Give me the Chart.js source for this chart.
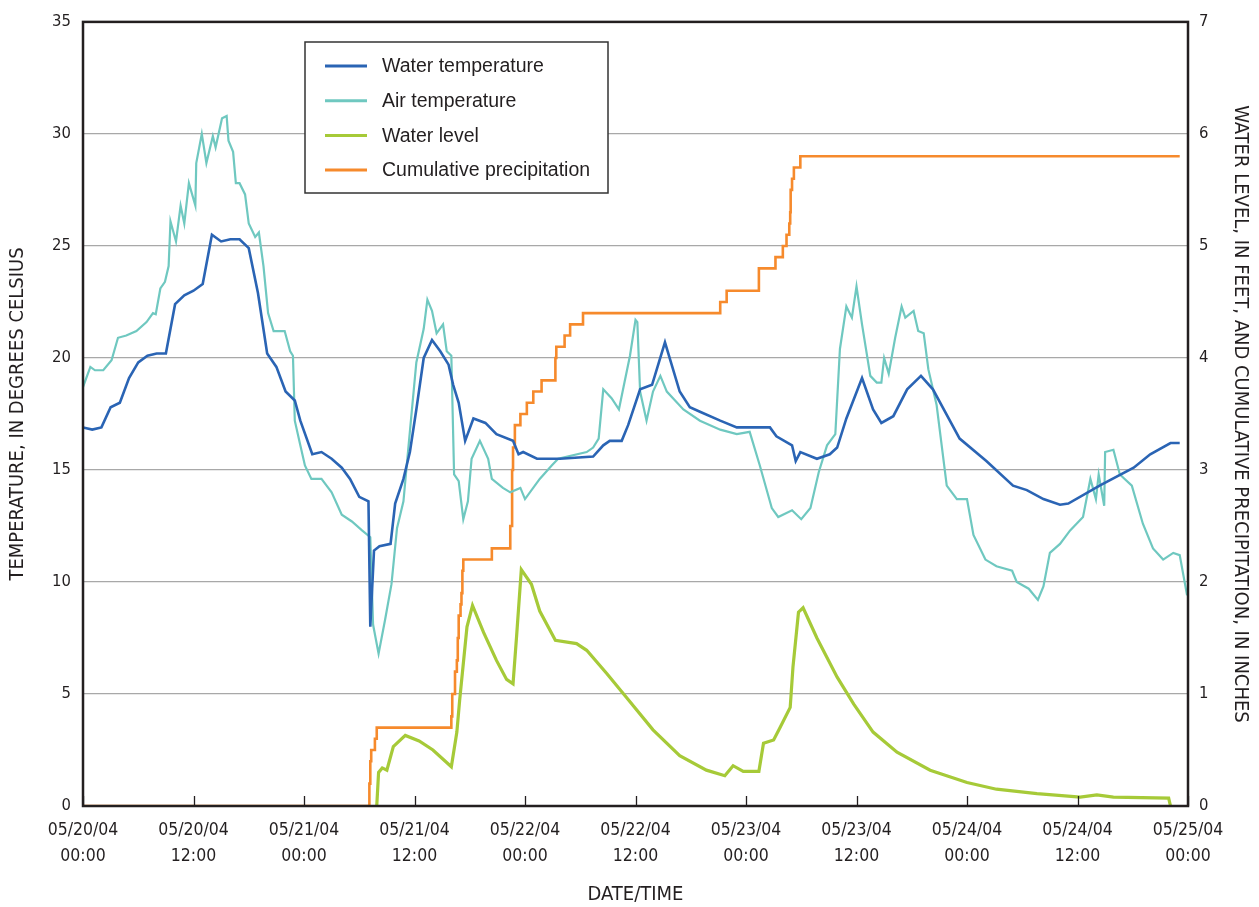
<!DOCTYPE html>
<html>
<head>
<meta charset="utf-8">
<script src="https://cdn.jsdelivr.net/npm/chart.js@4/dist/chart.umd.min.js"></script>
<style>
body{margin:0;background:#fff;}
canvas{display:block;}
</style>
</head>
<body>
<canvas id="tempChart" width="1259" height="907"></canvas>
<script>

// hours since 05/20/04 00:00
const xTickLabels = [
["05/20/04","00:00"],["05/20/04","12:00"],["05/21/04","00:00"],["05/21/04","12:00"],
["05/22/04","00:00"],["05/22/04","12:00"],["05/23/04","00:00"],["05/23/04","12:00"],
["05/24/04","00:00"],["05/24/04","12:00"],["05/25/04","00:00"]
];

const waterTempHours = [0,1,2,3,4,5,6,7,8,9,10,11,12,13,14,15,16,17,18,19,20,21,22,23,23.6,24.9,25.9,27,28.1,29,30,31,31.2,31.6,32.2,33.4,33.9,34.8,35.5,36.2,37,37.9,38.8,39.7,40.2,40.8,41.5,42.4,43.7,44.9,46.7,47.3,47.8,49.3,51.8,55.4,56.5,57.2,58.5,59.2,60.5,61.8,63.2,64.8,65.9,67,69.2,71,74.6,75.3,77,77.4,77.9,79.7,81.1,81.9,82.9,84.6,85.8,86.7,88,89.5,91,92.3,95.2,98.1,101,102.5,104.3,106.1,107,110.4,114.1,115.9,118.1,119.1];
const waterTemp = [16.9,16.8,16.9,17.8,18.0,19.1,19.8,20.1,20.2,20.2,22.4,22.8,23.0,23.3,25.5,25.2,25.3,25.3,24.9,22.9,20.2,19.6,18.5,18.1,17.2,15.7,15.8,15.5,15.1,14.6,13.8,13.6,8.0,11.4,11.6,11.7,13.5,14.6,15.8,17.7,20.0,20.8,20.3,19.7,18.8,18.0,16.3,17.3,17.1,16.6,16.3,15.7,15.8,15.5,15.5,15.6,16.1,16.3,16.3,17.0,18.6,18.8,20.7,18.5,17.8,17.6,17.2,16.9,16.9,16.5,16.1,15.4,15.8,15.5,15.7,16.0,17.3,19.1,17.7,17.1,17.4,18.6,19.2,18.6,16.4,15.4,14.3,14.1,13.7,13.45,13.5,14.3,15.1,15.7,16.2,16.2];

const airTempHours = [0,0.8,1.3,2.2,3.1,3.8,4.7,5.8,6.9,7.6,7.9,8.4,8.9,9.3,9.5,10.1,10.6,11,11.5,12.2,12.3,12.9,13.4,14.1,14.4,15.1,15.6,15.8,16.3,16.6,17,17.6,18,18.7,19.1,19.6,20.1,20.7,21.9,22.5,22.8,23,23.6,24.1,24.8,25.9,27,28.1,29.2,30.3,31.2,31.5,32.1,32.8,33.5,34.1,34.8,35.2,35.7,36.2,37,37.4,37.9,38.4,39.1,39.5,40,40.3,40.8,41.3,41.8,42.2,43.1,44,44.4,45.6,46.4,47.5,48,49.6,50.9,51.6,54.7,55.4,56,56.5,57.4,58.2,58.7,59.4,60,60.2,60.5,61.2,61.9,62.7,63.4,65.2,67,69.2,71,72.4,73.5,74.8,75.5,77,78,79,79.9,80.8,81.7,82.2,82.9,83.5,84,84.6,85.5,86.2,86.7,87,87.5,88.2,88.9,89.3,90.2,90.7,91.3,91.8,92.7,93.8,94.9,96,96.7,98,99.2,100.9,101.4,102.7,103.7,104.3,105,106.1,107.2,108.6,109.4,110,110.3,110.9,111,111.9,112.6,113.9,115.1,116.2,117.3,118.4,119.1,119.9];
const airTemp = [18.7,19.6,19.45,19.45,19.9,20.9,21.0,21.2,21.6,22.0,21.95,23.1,23.4,24.1,26.1,25.2,26.8,26.0,27.8,26.8,28.7,30.0,28.7,29.9,29.4,30.7,30.8,29.7,29.2,27.8,27.8,27.3,26.0,25.4,25.6,24.1,22.0,21.2,21.2,20.3,20.1,17.2,16.1,15.2,14.6,14.6,14.0,13.0,12.7,12.3,12.0,8.1,6.8,8.3,9.9,12.4,13.6,15.4,17.6,19.8,21.3,22.6,22.1,21.1,21.5,20.3,20.1,14.8,14.5,12.8,13.6,15.5,16.3,15.5,14.6,14.2,14.0,14.2,13.7,14.6,15.2,15.5,15.8,16.0,16.4,18.6,18.2,17.7,18.7,20.1,21.7,21.6,18.5,17.2,18.5,19.2,18.5,17.7,17.2,16.8,16.6,16.7,15.2,13.3,12.9,13.2,12.8,13.3,14.9,16.1,16.6,20.4,22.3,21.8,23.2,21.5,19.2,18.9,18.9,20.0,19.3,20.9,22.3,21.8,22.1,21.2,21.1,19.5,17.9,14.3,13.7,13.7,12.1,11.0,10.7,10.5,10.0,9.7,9.2,9.8,11.3,11.7,12.3,12.9,14.6,13.7,14.8,13.4,15.8,15.9,14.8,14.3,12.6,11.5,11.0,11.3,11.2,9.4];

const waterLevelHours = [31.9,32.1,32.5,33,33.7,35,36.5,38,40,40.6,40.9,41.7,42.3,43.5,44.9,46,46.7,47.1,47.6,48.7,49.6,51.3,53.6,54.7,56.9,59,61.9,64.8,67.7,69.7,70.6,71.7,73.4,73.9,75,75.7,76.8,77.1,77.7,78.2,79.7,81.9,83.7,85.8,88.4,92,96,99.2,103.6,108.3,110.1,111.9,117.9,118.1];
const waterLevel = [0,0.30,0.34,0.32,0.53,0.63,0.58,0.50,0.35,0.66,0.94,1.60,1.79,1.55,1.30,1.13,1.09,1.53,2.11,1.98,1.74,1.48,1.45,1.39,1.18,0.97,0.68,0.45,0.32,0.27,0.36,0.31,0.31,0.56,0.59,0.70,0.88,1.24,1.73,1.77,1.50,1.15,0.91,0.66,0.48,0.32,0.21,0.15,0.11,0.08,0.10,0.08,0.07,0];

const precipHours = [0,31.1,31.2,31.3,31.7,31.9,40,40.1,40.4,40.6,40.7,40.8,41,41.1,41.2,41.3,44.4,46.4,46.6,46.7,46.9,47.5,48.2,48.9,49.8,51.3,51.4,52.3,52.9,54.3,69.2,69.9,73.4,75.2,76,76.4,76.7,76.8,76.85,77,77.2,77.9,119.1];
const precip = [0,0.2,0.4,0.5,0.6,0.7,0.8,1.0,1.2,1.3,1.5,1.7,1.8,1.9,2.1,2.2,2.3,2.5,3.0,3.2,3.4,3.5,3.6,3.7,3.8,4.0,4.1,4.2,4.3,4.4,4.5,4.6,4.8,4.9,5.0,5.1,5.2,5.3,5.5,5.6,5.7,5.8,5.8];

const toPoints = (xs, ys) => xs.map((x, i) => ({x: x, y: ys[i]}));

const inkColor = "#231f20";
const narrowFont = "'Liberation Sans Narrow', 'DejaVu Sans Condensed', sans-serif";

// legend box and plot frame with inward x ticks
const frame = {
id: "frame",
afterDraw(chart){
const ctx = chart.ctx;
const a = chart.chartArea;
const xs = chart.scales.x;
ctx.save();
ctx.strokeStyle = inkColor;
ctx.lineWidth = 1.3;
xs.ticks.forEach(t => {
const px = Math.round(xs.getPixelForValue(t.value)) + 0.5;
ctx.beginPath();
ctx.moveTo(px, a.bottom);
ctx.lineTo(px, a.bottom - 10);
ctx.stroke();
});
ctx.lineWidth = 2.5;
ctx.strokeRect(a.left, a.top, a.right - a.left, a.bottom - a.top);

// legend
const bx = 305, by = 42, bw = 303, bh = 151;
ctx.fillStyle = "#fff";
ctx.fillRect(bx, by, bw, bh);
ctx.lineWidth = 1.5;
ctx.strokeStyle = "#333";
ctx.strokeRect(bx, by, bw, bh);
ctx.font = "19.5px 'Liberation Sans', Arial, sans-serif";
ctx.textBaseline = "middle";
chart.data.datasets.forEach((ds, i) => {
const y = by + 24 + i * 34.7;
ctx.strokeStyle = ds.borderColor;
ctx.lineWidth = 3;
ctx.beginPath();
ctx.moveTo(bx + 20, y);
ctx.lineTo(bx + 62, y);
ctx.stroke();
ctx.fillStyle = inkColor;
ctx.fillText(ds.label, bx + 77, y + 1);
});
ctx.restore();
}
};

new Chart("tempChart",{

type:"line",

data:{
datasets:[{
label:"Water temperature",
data:toPoints(waterTempHours, waterTemp),
borderColor:"#2a64b4",
borderWidth:2.6,
yAxisID:"y"
},{
label:"Air temperature",
data:toPoints(airTempHours, airTemp),
borderColor:"#6fc8c0",
borderWidth:2.2,
yAxisID:"y"
},{
label:"Water level",
data:toPoints(waterLevelHours, waterLevel),
borderColor:"#a6ca38",
borderWidth:3.2,
yAxisID:"y1"
},{
label:"Cumulative precipitation",
data:toPoints(precipHours, precip),
borderColor:"#f68a2c",
borderWidth:2.6,
stepped:true,
yAxisID:"y1"
}]
},

options:{
responsive:false,
animation:false,
devicePixelRatio:1,
layout:{padding:{top:19}},
elements:{point:{radius:0},line:{tension:0}},
plugins:{legend:{display:false},tooltip:{enabled:false}},
scales:{
x:{
type:"linear",
min:0,
max:120,
grid:{display:false,drawTicks:false},
border:{display:false},
ticks:{
stepSize:12,
autoSkip:false,
maxRotation:0,
padding:11,
color:inkColor,
font:{family:narrowFont,size:17.5,lineHeight:1.5},
callback:(v, i) => xTickLabels[i]
},
title:{display:true,text:"DATE/TIME",color:inkColor,padding:{top:0,bottom:0},font:{family:narrowFont,size:20}},
afterFit:s => {s.height = 101;}
},
y:{
position:"left",
min:0,
max:35,
grid:{color:"#a8a8a8",lineWidth:1.2,drawTicks:false},
border:{display:false},
ticks:{stepSize:5,padding:12,color:inkColor,font:{family:narrowFont,size:16.5}},
title:{display:true,text:"TEMPERATURE, IN DEGREES CELSIUS",color:inkColor,padding:{top:6,bottom:0},font:{family:narrowFont,size:20}},
afterFit:s => {s.width = 83;}
},
y1:{
position:"right",
min:0,
max:7,
grid:{display:false,drawTicks:false},
border:{display:false},
ticks:{stepSize:1,padding:11,color:inkColor,font:{family:narrowFont,size:16.5}},
title:{display:true,text:"WATER LEVEL, IN FEET, AND CUMULATIVE PRECIPITATION, IN INCHES",color:inkColor,padding:{top:7,bottom:0},font:{family:narrowFont,size:20}},
afterFit:s => {s.width = 71;}
}
}
},

plugins:[frame]

});

</script>
</body>
</html>
